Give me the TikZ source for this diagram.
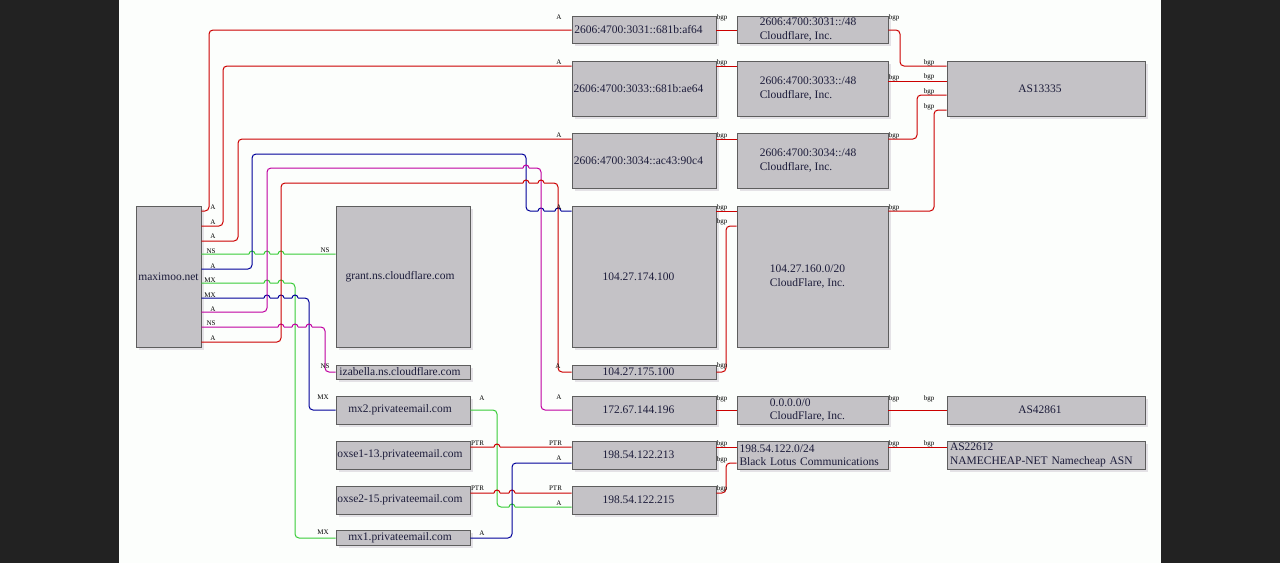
\documentclass[tikz,border=0pt]{standalone}
\usepackage{fontspec}
\setmainfont{Liberation Serif}
\usetikzlibrary{shadows}
\definecolor{bgdark}{HTML}{222222}
\definecolor{bgwhite}{HTML}{FCFEFC}
\definecolor{boxfill}{HTML}{C4C2C6}
\definecolor{boxline}{HTML}{5E5E5E}
\definecolor{shadowc}{HTML}{E4E2E6}
\definecolor{txt}{HTML}{1C1C3A}
\definecolor{ered}{HTML}{CC0000}
\definecolor{egreen}{HTML}{38CC38}
\definecolor{eblue}{HTML}{000099}
\definecolor{emag}{HTML}{C000A0}
\newcommand\hp[2]{-- (#1-3,#2) (#1-3,#2) arc[start angle=180,end angle=0,radius=3pt] (#1+3,#2)}
\begin{document}
\begin{tikzpicture}[x=1pt,y=-1pt,
  box/.style={draw=boxline, line width=0.8pt, fill=boxfill, text=txt, inner sep=1pt,
    font=\fontsize{11.5}{13.5}\selectfont,
    general shadow={fill=shadowc, shadow xshift=3pt, shadow yshift=-3pt}},
  lbl/.style={inner sep=0pt, font=\fontsize{7}{8}\selectfont, text=black},
  conn/.style={line width=1pt, rounded corners=4pt}]
\useasboundingbox (0,0) rectangle (1280,563);
\fill[bgdark] (0,0) rectangle (1280,563);
\fill[bgwhite] (119,0) rectangle (1161,563);

% column 1
\node[box, minimum width=65pt, minimum height=141pt] (maximoo) at (168.5,276.5) {maximoo.net};
% column 2
\node[box, minimum width=134pt, minimum height=141pt] (grant) at (403,276.5) {grant.ns.cloudflare.com\kern6pt};
\node[box, minimum width=134pt, minimum height=14pt] (izabella) at (403,372) {izabella.ns.cloudflare.com\kern6pt};
\node[box, minimum width=134pt, minimum height=28pt] (mxtwo) at (403,410) {mx2.privateemail.com\kern6pt};
\node[box, minimum width=134pt, minimum height=28pt] (oxseone) at (403,455) {oxse1-13.privateemail.com\kern6pt};
\node[box, minimum width=134pt, minimum height=28pt] (oxsetwo) at (403,500) {oxse2-15.privateemail.com\kern6pt};
\node[box, minimum width=134pt, minimum height=15pt] (mxone) at (403,537.5) {mx1.privateemail.com\kern6pt};
% column 3
\node[box, minimum width=144pt, minimum height=27pt] (ipa) at (644,29.5) {2606:4700:3031::681b:af64\kern11pt};
\node[box, minimum width=144pt, minimum height=55pt] (ipb) at (644,88.5) {2606:4700:3033::681b:ae64\kern11pt};
\node[box, minimum width=144pt, minimum height=55pt] (ipc) at (644,160.5) {2606:4700:3034::ac43:90c4\kern11pt};
\node[box, minimum width=144pt, minimum height=141pt] (ipd) at (644,276.5) {104.27.174.100\kern11pt};
\node[box, minimum width=144pt, minimum height=14pt] (ipe) at (644,372) {104.27.175.100\kern11pt};
\node[box, minimum width=144pt, minimum height=28pt] (ipf) at (644,410) {172.67.144.196\kern11pt};
\node[box, minimum width=144pt, minimum height=28pt] (ipg) at (644,455) {198.54.122.213\kern11pt};
\node[box, minimum width=144pt, minimum height=28pt] (iph) at (644,500) {198.54.122.215\kern11pt};
% column 4
\node[box, align=left, minimum width=151pt, minimum height=27pt] (pfa) at (812.5,29.5) {2606:4700:3031::/48\kern9pt\\Cloudflare, Inc.\kern9pt};
\node[box, align=left, minimum width=151pt, minimum height=55pt] (pfb) at (812.5,88.5) {2606:4700:3033::/48\kern9pt\\Cloudflare, Inc.\kern9pt};
\node[box, align=left, minimum width=151pt, minimum height=55pt] (pfc) at (812.5,160.5) {2606:4700:3034::/48\kern9pt\\Cloudflare, Inc.\kern9pt};
\node[box, align=left, minimum width=151pt, minimum height=141pt] (pfd) at (812.5,276.5) {104.27.160.0/20\kern10pt\\CloudFlare, Inc.\kern10pt};
\node[box, align=left, minimum width=151pt, minimum height=28pt] (pfe) at (812.5,410) {0.0.0.0/0\kern10pt\\CloudFlare, Inc.\kern10pt};
\node[box, align=left, text width=146pt, minimum width=151pt, minimum height=28pt] (pff) at (812.5,455) {198.54.122.0/24\\Black Lotus Communications};
% column 5
\node[box, minimum width=198pt, minimum height=55pt] (asa) at (1046,88.5) {AS13335\kern12pt};
\node[box, minimum width=198pt, minimum height=28pt] (asb) at (1046,410) {AS42861\kern12pt};
\node[box, align=left, text width=192pt, minimum width=198pt, minimum height=28pt] (asc) at (1046,455) {AS22612\\NAMECHEAP-NET Namecheap ASN};

% connectors from maximoo.net
\draw[conn, ered] (maximoo.east |- 0,211) -- (209,211) -- (209,30) -- (ipa.west |- 0,30);
\draw[conn, ered] (maximoo.east |- 0,226) -- (223,226) -- (223,66) -- (ipb.west |- 0,66);
\draw[conn, ered] (maximoo.east |- 0,241) -- (238,241) -- (238,139) -- (ipc.west |- 0,139);
\draw[conn, egreen] (maximoo.east |- 0,254) \hp{252}{254} \hp{267}{254} \hp{281}{254} -- (grant.west |- 0,254);
\draw[conn, eblue] (maximoo.east |- 0,269) -- (252,269) -- (252,154) -- (526,154) -- (526,211) \hp{541}{211} \hp{558}{211} -- (ipd.west |- 0,211);
\draw[conn, egreen] (maximoo.east |- 0,283) \hp{267}{283} \hp{281}{283} -- (295,283) -- (295,538) -- (mxone.west |- 0,538);
\draw[conn, eblue] (maximoo.east |- 0,298) \hp{267}{298} \hp{281}{298} \hp{295}{298} -- (309,298) -- (309,410) -- (mxtwo.west |- 0,410);
\draw[conn, emag] (maximoo.east |- 0,312) -- (267,312) -- (267,168) \hp{526}{168} -- (541,168) -- (541,410) -- (ipf.west |- 0,410);
\draw[conn, emag] (maximoo.east |- 0,327) \hp{281}{327} \hp{295}{327} \hp{309}{327} -- (325,327) -- (325,372) -- (izabella.west |- 0,372);
\draw[conn, ered] (maximoo.east |- 0,342) -- (281,342) -- (281,183) \hp{526}{183} \hp{541}{183} -- (558,183) -- (558,372) -- (ipe.west |- 0,372);
% bottom connectors
\draw[conn, egreen] (mxtwo.east |- 0,410) -- (497,410) -- (497,507) \hp{512}{507} -- (iph.west |- 0,507);
\draw[conn, ered] (oxseone.east |- 0,447) \hp{497}{447} -- (ipg.west |- 0,447);
\draw[conn, ered] (oxsetwo.east |- 0,493) \hp{497}{493} \hp{512}{493} -- (iph.west |- 0,493);
\draw[conn, eblue] (mxone.east |- 0,538) -- (512,538) -- (512,463) -- (ipg.west |- 0,463);
% bgp connectors
\draw[conn, ered] (ipa.east |- 0,30) -- (pfa.west |- 0,30);
\draw[conn, ered] (ipb.east |- 0,66) -- (pfb.west |- 0,66);
\draw[conn, ered] (ipc.east |- 0,139) -- (pfc.west |- 0,139);
\draw[conn, ered] (ipd.east |- 0,211) -- (pfd.west |- 0,211);
\draw[conn, ered] (ipe.east |- 0,372) -- (726,372) -- (726,226) -- (pfd.west |- 0,226);
\draw[conn, ered] (ipf.east |- 0,410) -- (pfe.west |- 0,410);
\draw[conn, ered] (ipg.east |- 0,447) -- (pff.west |- 0,447);
\draw[conn, ered] (iph.east |- 0,493) -- (726,493) -- (726,463) -- (pff.west |- 0,463);
\draw[conn, ered] (pfa.east |- 0,30) -- (900,30) -- (900,66) -- (asa.west |- 0,66);
\draw[conn, ered] (pfb.east |- 0,81) -- (asa.west |- 0,81);
\draw[conn, ered] (pfc.east |- 0,139) -- (917,139) -- (917,95) -- (asa.west |- 0,95);
\draw[conn, ered] (pfd.east |- 0,211) -- (934,211) -- (934,110) -- (asa.west |- 0,110);
\draw[conn, ered] (pfe.east |- 0,410) -- (asb.west |- 0,410);
\draw[conn, ered] (pff.east |- 0,447) -- (asc.west |- 0,447);

% labels at maximoo.net
\node[lbl] (t1) at (213,207) {A};
\node[lbl] (t2) at (213,222) {A};
\node[lbl] (t3) at (213,236) {A};
\node[lbl] (t4) at (211,251) {NS};
\node[lbl] (t5) at (213,266) {A};
\node[lbl] (t6) at (210,280) {MX};
\node[lbl] (t7) at (210,295) {MX};
\node[lbl] (t8) at (213,309) {A};
\node[lbl] (t9) at (211,323.5) {NS};
\node[lbl] (t10) at (213,338) {A};
% head labels
\node[lbl] (h1) at (559,17) {A};
\node[lbl] (h2) at (559,62) {A};
\node[lbl] (h3) at (559,135) {A};
\node[lbl] (h4) at (325,250) {NS};
\node[lbl] (h5) at (559,207) {A};
\node[lbl] (h6) at (323,532.5) {MX};
\node[lbl] (h7) at (323,397.5) {MX};
\node[lbl] (h8) at (559,397) {A};
\node[lbl] (h9) at (325,366.5) {NS};
\node[lbl] (h10) at (558,366) {A};
\node[lbl] (t11) at (482,398) {A};
\node[lbl] (h11) at (559,503.5) {A};
\node[lbl] (t12) at (477.5,443) {PTR};
\node[lbl] (h12) at (555.5,443) {PTR};
\node[lbl] (t13) at (477.5,488.5) {PTR};
\node[lbl] (h13) at (555.5,488.5) {PTR};
\node[lbl] (t14) at (482,533) {A};
\node[lbl] (h14) at (559,458.5) {A};
% bgp labels
\node[lbl] (b1) at (722,17.5) {bgp};
\node[lbl] (b2) at (722,63) {bgp};
\node[lbl] (b3) at (722,135.5) {bgp};
\node[lbl] (b4) at (722,208) {bgp};
\node[lbl] (b5) at (722,366) {bgp};
\node[lbl] (b5h) at (722,221.5) {bgp};
\node[lbl] (b6) at (722,399) {bgp};
\node[lbl] (b7) at (722,443.5) {bgp};
\node[lbl] (b8) at (722,489) {bgp};
\node[lbl] (b8h) at (722,459.5) {bgp};
\node[lbl] (b9) at (894,17.5) {bgp};
\node[lbl] (b9h) at (929,62.5) {bgp};
\node[lbl] (b10) at (894,77.5) {bgp};
\node[lbl] (b10h) at (929,77) {bgp};
\node[lbl] (b11) at (894,135.5) {bgp};
\node[lbl] (b11h) at (929,91.5) {bgp};
\node[lbl] (b12) at (894,208) {bgp};
\node[lbl] (b12h) at (929,106.5) {bgp};
\node[lbl] (b13) at (894,398.5) {bgp};
\node[lbl] (b13h) at (929,398.5) {bgp};
\node[lbl] (b14) at (894,443.5) {bgp};
\node[lbl] (b14h) at (929,443.5) {bgp};
\end{tikzpicture}
\end{document}
